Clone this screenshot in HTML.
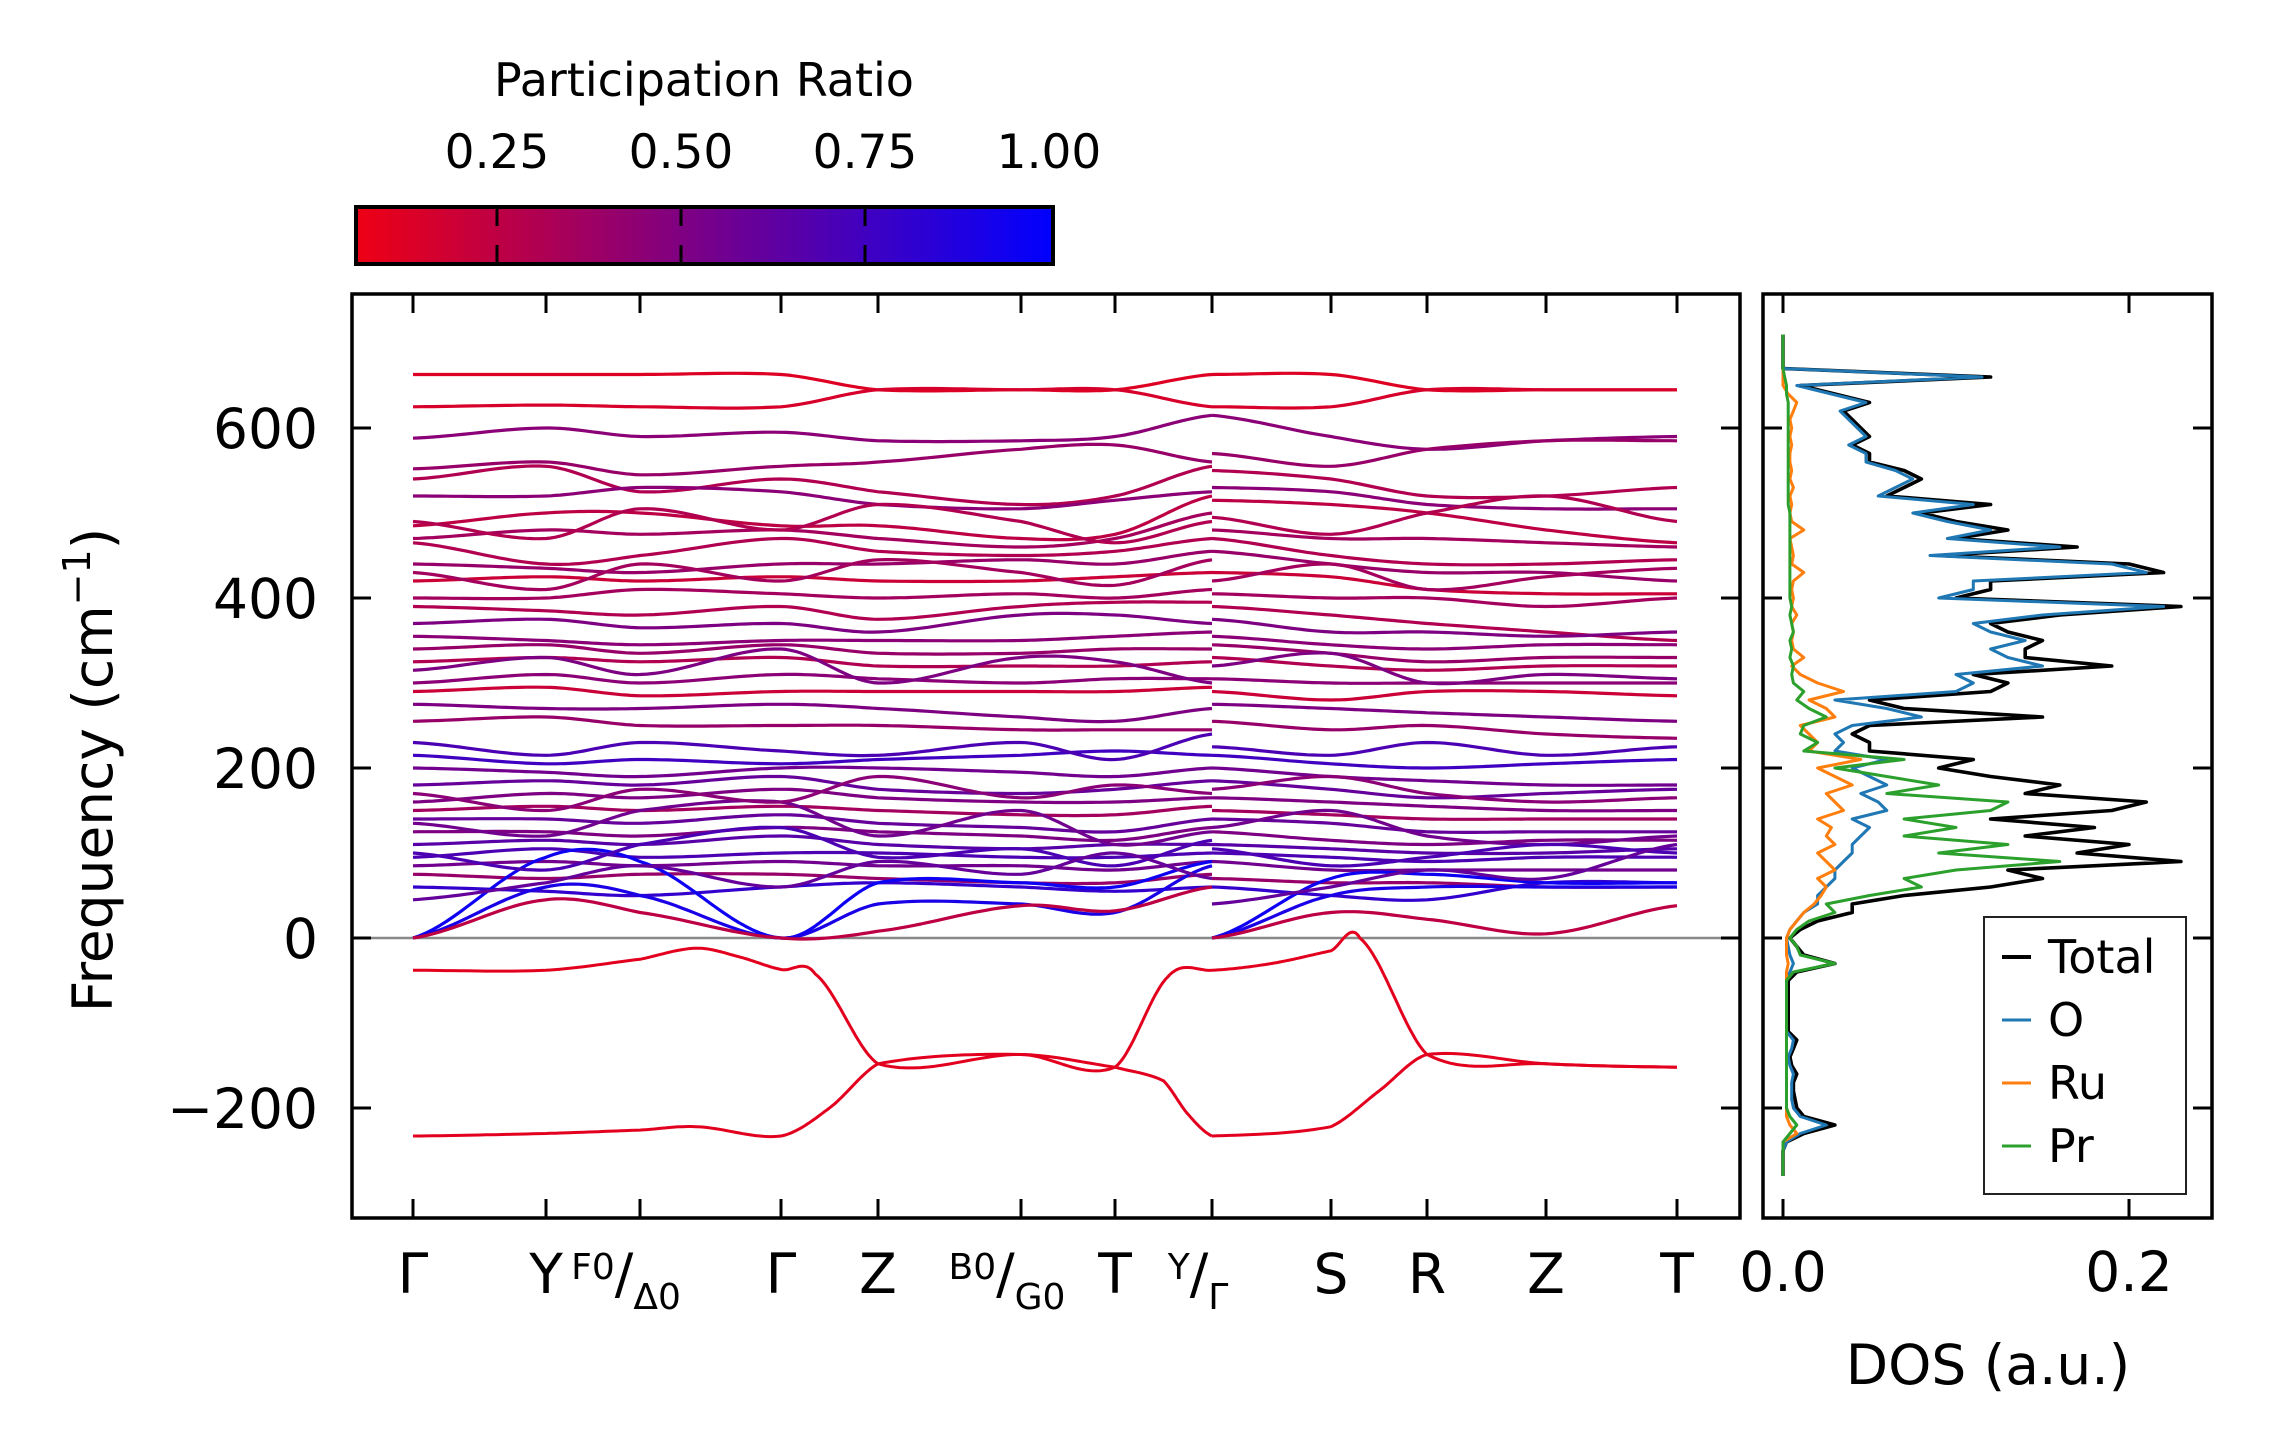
<!DOCTYPE html>
<html><head><meta charset="utf-8">
<style>
html,body{margin:0;padding:0;background:#fff;}
svg{display:block;font-family:"DejaVu Sans","Liberation Sans",sans-serif;}
</style></head>
<body>
<svg id="fig" width="2271" height="1455" viewBox="0 0 2271 1455" xmlns="http://www.w3.org/2000/svg">
<defs>
<linearGradient id="cmap" x1="0" x2="1" y1="0" y2="0">
<stop offset="0" stop-color="rgb(238,0,20)"/>
<stop offset="1" stop-color="rgb(0,0,255)"/>
</linearGradient>
<clipPath id="mainclip"><rect x="352" y="294" width="1388" height="924"/></clipPath>
<clipPath id="dosclip"><rect x="1763" y="294" width="449" height="924"/></clipPath>
</defs>
<g id="colorbar">
<text x="704" y="96" font-size="46" text-anchor="middle">Participation Ratio</text>
<rect x="356" y="207" width="697" height="57" fill="url(#cmap)" stroke="#000" stroke-width="4"/>
</g>
<g id="bands" clip-path="url(#mainclip)"></g>
<g id="dos" clip-path="url(#dosclip)"></g>
<g id="axes"></g>
</svg>
<script>
// ---------- data ----------
const kLabels = ["Γ","Y","F0/Δ0","Γ","Z","B0/G0","T","Y/Γ","S","R","Z","T"];
const cbTicks = [0.25,0.50,0.75,1.00];
const yTicks = [-200,0,200,400,600];
const dosTicks = [0.0,0.2];
// band values at [Γ,Y,F0,Γ,Z,B0,T,Y | Γ,S,R,Z,T]
const bandValues = [
[663,663,663,663,645,645,645,663, 663,663,645,645,645],
[625,627,625,625,645,645,645,625, 625,625,645,645,645],
[588,600,590,595,585,585,590,615, 615,590,575,585,590],
[552,560,545,555,560,575,580,560, 570,555,575,585,585],
[540,555,525,540,525,510,520,555, 550,540,520,520,530],
[520,520,530,525,510,505,515,525, 530,525,510,505,505],
[485,500,500,485,485,470,475,520, 515,510,500,480,465],
[470,480,475,480,470,460,470,500, 480,470,470,465,460],
[465,440,450,470,455,450,455,470, 470,450,440,440,445],
[440,435,430,440,440,445,440,455, 455,440,430,430,420],
[420,425,420,425,420,420,425,430, 430,425,410,405,405],
[400,400,410,405,400,405,400,410, 405,400,400,390,400],
[390,385,380,390,375,390,395,395, 390,380,370,360,350],
[370,375,365,370,360,380,380,370, 375,360,360,355,360],
[355,350,345,350,350,350,355,360, 355,345,340,345,345],
[340,345,335,345,335,335,340,340, 345,335,325,330,330],
[325,330,325,330,320,320,320,325, 330,320,315,320,320],
[300,310,300,310,305,300,305,305, 305,300,300,300,300],
[290,295,285,290,290,290,290,295, 290,280,290,290,285],
[275,270,270,275,270,260,255,270, 275,270,265,260,255],
[255,260,250,250,250,245,245,245, 255,245,250,240,235],
[215,205,210,205,210,215,220,215, 215,205,200,205,210],
[200,195,190,200,200,195,190,200, 200,190,185,180,180],
[180,185,180,190,175,170,175,185, 185,175,165,170,175],
[160,170,165,175,165,160,160,165, 165,160,155,150,150],
[150,155,150,155,150,145,145,155, 150,145,140,140,140],
[140,140,135,145,135,130,125,140, 140,135,125,125,125],
[125,125,120,130,125,120,115,130, 125,115,110,115,115],
[110,115,110,120,110,105,110,110, 110,105,100,100,105],
[95,105,95,100,100,95,95,100, 100,95,90,95,95],
[85,90,85,90,85,85,80,90, 90,80,80,80,80],
[75,70,75,75,70,65,65,75, 70,65,65,60,60],
[60,55,50,60,65,60,55,60, 60,50,45,65,65],
[0,95,90,0,65,65,60,90, 0,70,75,65,65],
[0,60,50,0,40,40,30,85, 0,50,60,60,60],
[0,45,30,0,8,38,32,60, 0,30,22,5,38],
[135,120,150,160,120,150,110,125, 130,150,120,110,120],
[100,80,110,130,95,105,85,115, 105,85,95,110,100],
[170,150,175,160,190,165,180,170, 175,190,170,160,165],
[45,65,85,60,90,75,100,70, 40,60,80,70,110],
[230,215,230,220,215,230,210,240, 225,215,230,215,225],
[315,330,310,340,300,330,325,300, 320,335,300,310,305],
[430,410,440,420,445,430,415,445, 420,440,410,425,435],
[490,470,505,480,510,490,465,490, 495,475,500,520,490]
];
const bandPR = [0.12,0.15,0.45,0.4,0.3,0.45,0.25,0.35,0.3,0.4,0.2,0.35,0.3,0.5,0.45,0.4,0.3,0.45,0.2,0.5,0.4,0.75,0.55,0.6,0.5,0.35,0.6,0.5,0.65,0.7,0.55,0.4,0.8,0.95,0.9,0.25,0.55,0.7,0.45,0.6,0.7,0.5,0.35,0.3];
// imaginary (negative) modes, path coordinate q in tick-index units
const imagUpperLeftQ = [0,1,2,2.4,2.7,3,3.35,4,5,6,6.55,7];
const imagUpperLeftV = [-38,-38,-25,-12,-22,-37,-42,-148,-137,-152,-45,-38];
const imagLowerLeftQ = [0,1,2,2.4,3,3.5,4,5,6,6.5,6.75,7];
const imagLowerLeftV = [-233,-230,-226,-222,-233,-200,-148,-137,-152,-168,-207,-233];
const imagUpperRightQ = [7,7.5,8,8.3,9,10,11];
const imagUpperRightV = [-38,-30,-15,0,-137,-148,-152];
const imagLowerRightQ = [7,8,8.5,9,10,11];
const imagLowerRightV = [-233,-222,-180,-137,-148,-152];
const imagPR = 0.1;
// DOS on grid -280..710 step 10
const dosFreqStart = -280, dosFreqStep = 10;
const dosTotal = [0,0,0,0, .002,.012,.03,.012,.008, .007,.006,.006,.008,.005,.004,.006,.008, .003,.003,.003,.003,.003,.003,.003, .008,.03,.012,.008,.004,
.01,.02,.04,.04,.07,.12,.15,.13,.23,.17, .2,.14,.18,.12,.19,.21,.14,.16,.12,.09, .11,.05,.05,.04,.05,.15,.07,.05,.12,.13,
.11,.19,.14,.14,.15,.13,.12,.16,.23,.1, .12,.12,.22,.2,.09,.17,.1,.13,.1,.08, .12,.06,.07,.08,.07,.05,.05,.04,.05,.045,
.04,.035,.05,.03,.01,.12,0,0,0,0,0];
const dosO = [0,0,0,0, .002,.01,.025,.01,.006, .005,.005,.005,.006,.004,.003,.005,.006, .002,.002,.002,.002,.002,.002,.002, .004,.006,.004,.003,.002,
.004,.008,.012,.02,.02,.025,.03,.03,.035,.04, .04,.045,.05,.04,.06,.055,.045,.06,.05,.04, .06,.03,.035,.03,.04,.08,.06,.03,.1,.11,
.1,.15,.13,.12,.14,.12,.11,.15,.22,.09, .11,.11,.21,.19,.085,.16,.095,.12,.095,.075, .11,.055,.065,.075,.065,.048,.048,.038,.048,.043,
.038,.033,.048,.028,.008,.115,0,0,0,0,0];
const dosRu = [0,0,0,0, 0,.008,.004,.002,.002, .002,.002,.002,.002,.002,.002,.002,.002, .002,.002,.002,.002,.002,.002,.002, .002,.003,.002,.002,.002,
.004,.008,.012,.018,.022,.025,.02,.03,.025,.02, .03,.025,.028,.02,.035,.03,.025,.04,.03,.02, .045,.015,.02,.015,.01,.03,.025,.015,.035,.02,
.01,.005,.012,.006,.005,.006,.005,.008,.005,.006, .005,.006,.012,.005,.006,.005,.004,.012,.005,.004, .005,.004,.006,.004,.005,.004,.004,.005,.004,.005,
.004,.006,.008,.003,0,0,0,0,0,0,0];
const dosPr = [0,0,0,0, 0,.004,.008,.004,.002, .002,.002,.002,.002,.002,.002,.002,.002, .002,.002,.002,.002,.002,.002,.002, .006,.03,.01,.008,.004,
.008,.015,.03,.025,.05,.08,.07,.1,.16,.09, .13,.07,.1,.07,.12,.13,.06,.09,.06,.03, .07,.012,.02,.01,.012,.025,.015,.008,.012,.006,
.005,.006,.004,.005,.004,.006,.005,.004,.005,.004, .004,.004,.004,.004,.004,.004,.004,.004,.004,.004, .003,.003,.003,.003,.003,.003,.003,.003,.003,.003,
.003,.003,.003,.002,.002,.001,0,0,0,0,0];
const legendNames = ["Total","O","Ru","Pr"];
const legendColors = ["#000000","#1f77b4","#ff7f0e","#2ca02c"];

// ---------- scales ----------
const NS = "http://www.w3.org/2000/svg";
const tickX = [413,546,640,781,878,1021,1115,1212,1331,1427,1546,1677];
function qx(q){const i=Math.min(Math.floor(q),10);const t=q-i;return tickX[i]+(tickX[i+1]-tickX[i])*t;}
function fy(f){return 938-0.85*f;}
function cbx(v){return 681+(v-0.5)*736;}
function dx(d){return 1783+d*1730;}
function prColor(v){const t=Math.max(0,Math.min(1,(v-0.058)/(1-0.058)));
 return `rgb(${Math.round(238*(1-t))},0,${Math.round(20+235*t)})`;}
function mk(tag,attrs,parent){const e=document.createElementNS(NS,tag);for(const k in attrs)e.setAttribute(k,attrs[k]);parent.appendChild(e);return e;}

const svg=document.getElementById('fig');
const gB=document.getElementById('bands');
const gD=document.getElementById('dos');
const gA=document.getElementById('axes');

// zero line
const zl=mk('line',{x1:352,x2:1740,y1:fy(0),y2:fy(0),stroke:'#888',"stroke-width":2.5},gB);



function catmull(qs,vs){
 const pts=[];
 for(let i=0;i<qs.length-1;i++){
  const p0=vs[Math.max(0,i-1)],p1=vs[i],p2=vs[i+1],p3=vs[Math.min(vs.length-1,i+2)];
  for(let s=0;s<20;s++){const t=s/20;
   const v=0.5*((2*p1)+(-p0+p2)*t+(2*p0-5*p1+4*p2-p3)*t*t+(-p0+3*p1-3*p2+p3)*t*t*t);
   pts.push([qx(qs[i]+(qs[i+1]-qs[i])*t),fy(v)]);}
 }
 pts.push([qx(qs[qs.length-1]),fy(vs[vs.length-1])]);
 return pts;
}
function drawPath(pts,color,w,name){
 const p=mk('path',{d:'M'+pts.map(p=>p[0].toFixed(1)+','+p[1].toFixed(1)).join('L'),fill:'none',stroke:color,"stroke-width":w,"stroke-linejoin":"round"},gB);
 
 
}
const leftQ=[0,1,2,3,4,5,6,7], rightQ=[7,8,9,10,11];
bandValues.forEach((b,i)=>{
 const c=prColor(bandPR[i]);
 drawPath(catmull(leftQ,b.slice(0,8)),c,3.2,'phonon-band-'+(i+1)+'-left');
 drawPath(catmull(rightQ,b.slice(8)),c,3.2,'phonon-band-'+(i+1)+'-right');
});
const ic=prColor(imagPR);
drawPath(catmull(imagUpperLeftQ,imagUpperLeftV),ic,3,'imaginary-band-upper-left');
drawPath(catmull(imagLowerLeftQ,imagLowerLeftV),ic,3,'imaginary-band-lower-left');
drawPath(catmull(imagUpperRightQ,imagUpperRightV),ic,3,'imaginary-band-upper-right');
drawPath(catmull(imagLowerRightQ,imagLowerRightV),ic,3,'imaginary-band-lower-right');

// DOS
function dosPath(arr,color,w,name){
 const pts=arr.map((d,i)=>[dx(d),fy(dosFreqStart+i*dosFreqStep)]);
 const p=mk('path',{d:'M'+pts.map(p=>p[0].toFixed(1)+','+p[1].toFixed(1)).join('L'),fill:'none',stroke:color,"stroke-width":w,"stroke-linejoin":"round"},gD);
 
 
}
dosPath(dosTotal,legendColors[0],3.6,'dos-total-line');
dosPath(dosO,legendColors[1],3,'dos-o-line');
dosPath(dosRu,legendColors[2],3,'dos-ru-line');
dosPath(dosPr,legendColors[3],3,'dos-pr-line');

// axes frames
const f1=mk('rect',{x:352,y:294,width:1388,height:924,fill:'none',stroke:'#000',"stroke-width":3.5},gA);


const f2=mk('rect',{x:1763,y:294,width:449,height:924,fill:'none',stroke:'#000',"stroke-width":3.5},gA);



// colorbar ticks
cbTicks.forEach(v=>{
 const x=cbx(v);
 if(v<1){mk('line',{x1:x,x2:x,y1:207,y2:226,stroke:'#000',"stroke-width":3},gA);
 mk('line',{x1:x,x2:x,y1:245,y2:264,stroke:'#000',"stroke-width":3},gA);}
 const t=mk('text',{x:x,y:168,"font-size":47,"text-anchor":"middle"},gA);
 t.textContent=v.toFixed(2);
 
 
});

// y ticks
yTicks.forEach(v=>{
 const y=fy(v);
 mk('line',{x1:352,x2:371,y1:y,y2:y,stroke:'#000',"stroke-width":3},gA);
 mk('line',{x1:1721,x2:1740,y1:y,y2:y,stroke:'#000',"stroke-width":3},gA);
 mk('line',{x1:1763,x2:1782,y1:y,y2:y,stroke:'#000',"stroke-width":3},gA);
 mk('line',{x1:2193,x2:2212,y1:y,y2:y,stroke:'#000',"stroke-width":3},gA);
 const t=mk('text',{x:318,y:y+20,"font-size":55,"text-anchor":"end"},gA);
 t.textContent=(v<0?'\u2212'+(-v):String(v));
 
 
});
// x ticks main
kLabels.forEach((lab,i)=>{
 const x=tickX[i];
 mk('line',{x1:x,x2:x,y1:1218,y2:1199,stroke:'#000',"stroke-width":3},gA);
 mk('line',{x1:x,x2:x,y1:294,y2:313,stroke:'#000',"stroke-width":3},gA);
 let t;
 if(lab.includes('/')){
  const [a,b]=lab.split('/');
  t=mk('text',{x:x,y:1293,"font-size":55,"text-anchor":"middle"},gA);
  const s1=mk('tspan',{"font-size":36,dx:-14,dy:-14},t); s1.textContent=a;
  const s2=mk('tspan',{"font-size":55,dy:14},t); s2.textContent='/';
  const s3=mk('tspan',{"font-size":36,dy:16},t); s3.textContent=b;
 } else {
  t=mk('text',{x:x,y:1293,"font-size":55,"text-anchor":"middle"},gA);
  t.textContent=lab;
 }
 
 
});
// dos x ticks
dosTicks.forEach(v=>{
 const x=dx(v);
 mk('line',{x1:x,x2:x,y1:1218,y2:1199,stroke:'#000',"stroke-width":3},gA);
 mk('line',{x1:x,x2:x,y1:294,y2:313,stroke:'#000',"stroke-width":3},gA);
 const t=mk('text',{x:x,y:1291,"font-size":55,"text-anchor":"middle"},gA);
 t.textContent=v.toFixed(1);
 
 
});
// axis titles
const yl=mk('text',{x:0,y:0,"font-size":55,"text-anchor":"middle",transform:'translate(112,770) rotate(-90)'},gA);
yl.innerHTML='Frequency (cm<tspan font-size="38" dy="-22">\u22121</tspan><tspan dy="22">)</tspan>';


const xl=mk('text',{x:1988,y:1384,"font-size":55,"text-anchor":"middle"},gA);
xl.textContent='DOS (a.u.)';



// legend
const lg=mk('g',{},gA);


mk('rect',{x:1984,y:917,width:202,height:277,fill:'#fff',stroke:'#222',"stroke-width":2},lg);
legendNames.forEach((n,i)=>{
 const y=957+i*63;
 const e=mk('g',{},lg);
 
 
 mk('line',{x1:2002,x2:2031,y1:y,y2:y,stroke:legendColors[i],"stroke-width":i==0?4:3},e);
 const t=mk('text',{x:2048,y:y+16,"font-size":46},e);
 t.textContent=n;
});
</script>
</body></html>
